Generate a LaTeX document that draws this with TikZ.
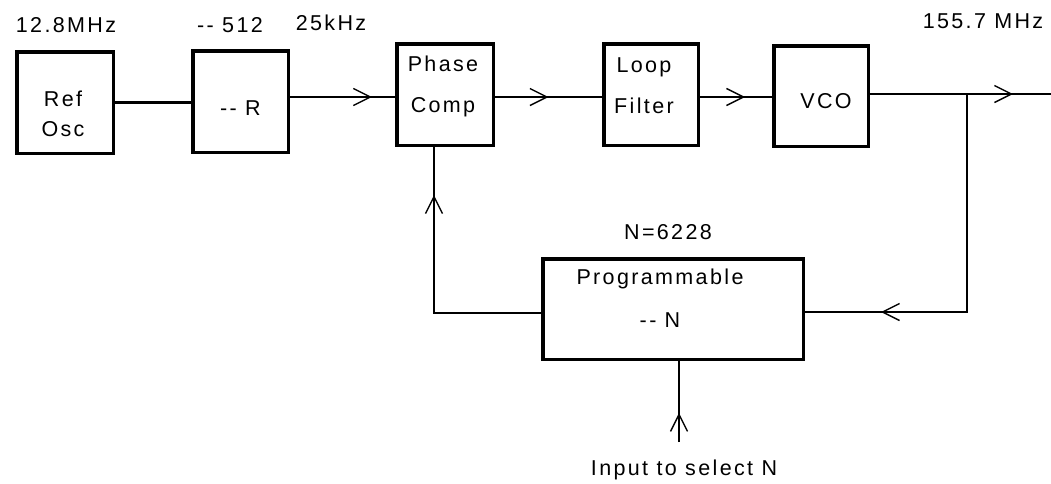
\documentclass[tikz,border=0pt]{standalone}
\usepackage{fontspec}
\setmainfont{Liberation Sans}[LetterSpace=11]
\usepackage{tikz}
\usetikzlibrary{arrows.meta, positioning, calc, decorations.markings}

\begin{document}
\begin{tikzpicture}[
  x=1pt, y=-1pt,
  font=\fontsize{21.5}{25.8}\selectfont,
  block/.style={rectangle, draw, line width=3.5pt, inner sep=0pt},
  lbl/.style={align=center, inner sep=0pt},
  flow/.style={line width=1.8pt, postaction={decorate},
    decoration={markings, mark=at position #1 with
      {\arrow{Straight Barb[length=17pt, width=17pt, line width=1.4pt]}}}},
  wire/.style={line width=2.2pt},
]
  \useasboundingbox (0,0) rectangle (1051,483);

  % forward path
  \node[block, minimum width=96.5pt, minimum height=101.5pt,
    label={[lbl, xshift=-2pt, yshift=-11.5pt]center:Ref\\[4.2pt]Osc}] (ref) at (65,102.5) {};
  \node[block, minimum width=95.5pt, minimum height=101.5pt,
    label={[lbl, yshift=-6.5pt]center:-{}- R}] (div) at (240.5,101.5) {};
  \node[block, minimum width=96.5pt, minimum height=101.5pt,
    label={[lbl, xshift=-2pt, yshift=8.5pt]center:Phase\\[15.2pt]Comp}] (phase) at (445,94.5) {};
  \node[block, minimum width=94.5pt, minimum height=101.5pt,
    label={[lbl, xshift=-7pt, yshift=8.5pt]center:Loop\\[15.2pt]Filter}] (loop) at (651,94.5) {};
  \node[block, minimum width=94.5pt, minimum height=100.5pt,
    label={[lbl, xshift=5pt, yshift=-5pt]center:VCO}] (vco) at (821,96) {};

  % feedback divider
  \node[block, minimum width=260.5pt, minimum height=100.5pt,
    label={[lbl, xshift=-13pt, yshift=10.5pt]center:Programmable\\[17.2pt]-{}- N}] (prog) at (673,309) {};

  % frequencies
  \node[lbl] (fref) at (66,25) {12.8MHz};
  \node[lbl] (rval) at (230,25) {-{}- 512};
  \node[lbl] (fcmp) at (331,22.5) {25kHz};
  \node[lbl] (fout) at (983,21.5) {155.7 MHz};
  \node[lbl] (nval) at (668,232) {N=6228};
  \node[lbl] (nsel) at (684,470) {Input to select N};

  \coordinate (out) at (1051,94);
  \coordinate (tap) at (967,94);
  \coordinate (sel) at (679,442);

  \draw[wire] (ref.east) -- (ref.east -| div.west);
  \draw[flow=0.78] ([yshift=4.5pt]div.east) -- ([yshift=4.5pt]div.east -| phase.west);
  \draw[flow=0.50] ([yshift=-2.5pt]phase.east) -- ([yshift=-2.5pt]phase.east -| loop.west);
  \draw[flow=0.625] ([yshift=-2.5pt]loop.east) -- ([yshift=-2.5pt]loop.east -| vco.west);
  \draw[flow=0.79] ([yshift=2pt]vco.east) -- (out);
  \draw[flow=0.80] (tap) |- ([yshift=-3pt]prog.east);
  \draw[flow=0.824] ([yshift=-4pt]prog.west) -| ([xshift=-11pt]phase.south);
  \draw[flow=0.36] (sel) -- (sel |- prog.south);
\end{tikzpicture}
\end{document}
